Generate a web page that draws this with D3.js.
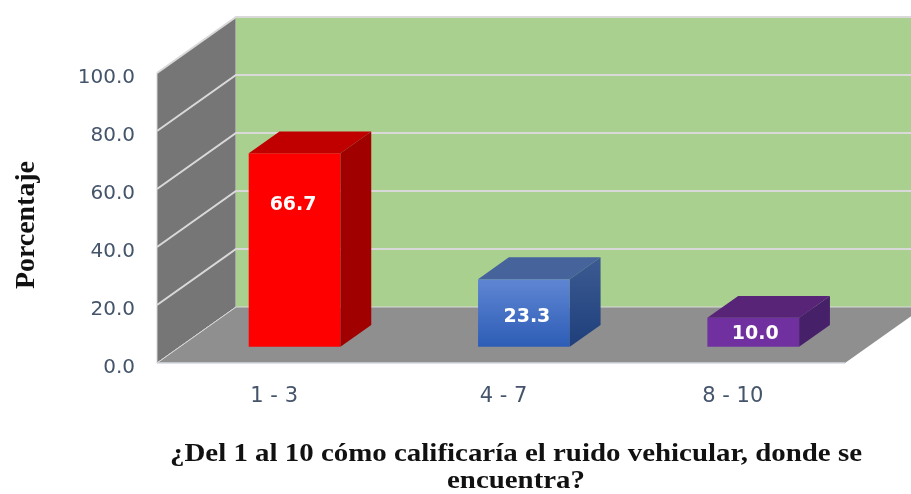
<!DOCTYPE html>
<html>
<head>
<meta charset="utf-8">
<script src="https://cdn.jsdelivr.net/npm/d3@7"></script>
<style>
  html, body { margin: 0; padding: 0; background: #fff; }
  svg { display: block; filter: blur(0.4px); }
  .tick-label { font-family: "DejaVu Sans", sans-serif; fill: #44546a; }
  .serif { font-family: "Liberation Serif", serif; font-weight: bold; fill: #111; }
</style>
</head>
<body>
<div id="chart"></div>
<script>
var categories = ["1 - 3", "4 - 7", "8 - 10"];
var values = [66.7, 23.3, 10.0];
var yTicks = [0, 20, 40, 60, 80, 100];
var yTitle = "Porcentaje";
var xTitleLines = ["¿Del 1 al 10 cómo calificaría el ruido vehicular, donde se", "encuentra?"];

var barColors = [
  { front: ["#ff0000", "#ff0000"], top: "#c00000", side: ["#a00000", "#a00000"] },
  { front: ["#5f86d3", "#2d5db6"], top: "#46639c", side: ["#3c5b92", "#1f3f7c"] },
  { front: ["#7030a0", "#7030a0"], top: "#572478", side: ["#47206a", "#47206a"] }
];

var svgWidth = 911;
var svgHeight = 494;

var svg = d3.select("#chart")
  .append("svg")
  .attr("width", svgWidth)
  .attr("height", svgHeight);

var defs = svg.append("defs");

// front face of the plot box
var xScale = d3.scaleBand().domain(categories).range([157, 845]);
var yScale = d3.scaleLinear().domain([0, 100]).range([363, 73]);

// depth runs from the front of the floor (0) to the back wall (1)
var depthX = d3.scaleLinear().domain([0, 1]).range([0, 79]);
var depthY = d3.scaleLinear().domain([0, 1]).range([0, -56]);

var line = d3.line();

// x here is a pixel position on the front plane, v is a value on the y axis
function project(x, v, z) {
  return [x + depthX(z), yScale(v) + depthY(z)];
}

function face(points, fill) {
  return svg.append("path")
    .attr("d", line(points) + "Z")
    .attr("fill", fill);
}

var x0 = xScale.range()[0];
var x1 = xScale.range()[1];

// side wall, floor, back wall
face([project(x0, 0, 0), project(x0, 100, 0), project(x0, 100, 1), project(x0, 0, 1)], "#767676")
  .attr("stroke", "#d4d4d4").attr("stroke-width", 1);
face([project(x0, 0, 0), project(x0, 0, 1), project(x1, 0, 1), project(x1, 0, 0)], "#8f8f8f");
face([project(x0, 0, 1), project(x0, 100, 1), project(x1, 100, 1), project(x1, 0, 1)], "#a9d08e");

// gridlines run along the side wall and across the back wall
yTicks.forEach(function(t) {
  svg.append("path")
    .attr("d", line([project(x0, t, 0), project(x0, t, 1), project(x1, t, 1)]))
    .attr("fill", "none")
    .attr("stroke", "#d9d9d9")
    .attr("stroke-width", t === 0 ? 1 : 2);
});

// front edge of the floor
svg.append("path")
  .attr("d", line([project(x0, 0, 0), project(x1, 0, 0)]))
  .attr("stroke", "#d4d9e0")
  .attr("stroke-width", 1.5);

// bars
var barWidth = xScale.bandwidth() * 0.4;
var zFront = 0.29;
var zBack = 0.68;
// where the label sits on the bar: share of its height, and a nudge sideways
var labelShare = [0.74, 0.47, 0.5];
var labelNudge = [-1.5, 3, 2];

function gradient(id, stops) {
  var g = defs.append("linearGradient")
    .attr("id", id)
    .attr("x1", 0).attr("y1", 0).attr("x2", 0).attr("y2", 1);
  g.append("stop").attr("offset", "0%").attr("stop-color", stops[0]);
  g.append("stop").attr("offset", "100%").attr("stop-color", stops[1]);
}

categories.forEach(function(c, i) {
  var center = xScale(c) + xScale.bandwidth() / 2;
  var left = center - barWidth / 2;
  var right = center + barWidth / 2;
  var v = values[i];
  var col = barColors[i];

  gradient("front" + i, col.front);
  gradient("side" + i, col.side);

  face([project(left, 0, zFront), project(left, v, zFront), project(right, v, zFront), project(right, 0, zFront)], "url(#front" + i + ")");
  face([project(left, v, zFront), project(left, v, zBack), project(right, v, zBack), project(right, v, zFront)], col.top);
  face([project(right, 0, zFront), project(right, v, zFront), project(right, v, zBack), project(right, 0, zBack)], "url(#side" + i + ")");

  var mid = project(center, v * labelShare[i], zFront);
  svg.append("text")
    .attr("x", mid[0] + labelNudge[i])
    .attr("y", mid[1])
    .attr("dy", "0.35em")
    .attr("text-anchor", "middle")
    .attr("font-family", "DejaVu Sans, sans-serif")
    .attr("font-weight", "bold")
    .attr("font-size", 19)
    .attr("fill", "#fff")
    .text(v.toFixed(1));
});

// axes
var leftAxis = d3.axisLeft(yScale)
  .tickValues(yTicks)
  .tickFormat(d3.format(".1f"))
  .tickSize(0);

svg.append("g")
  .attr("transform", "translate(" + (x0 - 22) + ",3)")
  .call(leftAxis)
  .call(function(g) { g.select(".domain").remove(); })
  .selectAll("text")
  .attr("class", "tick-label")
  .attr("x", 0)
  .attr("font-size", 20);

var bottomAxis = d3.axisBottom(xScale).tickSize(0).tickPadding(0);

svg.append("g")
  .attr("transform", "translate(2.5," + (yScale(0) + 24) + ")")
  .call(bottomAxis)
  .call(function(g) { g.select(".domain").remove(); })
  .selectAll("text")
  .attr("class", "tick-label")
  .attr("font-size", 21);

// axis titles
svg.append("text")
  .attr("class", "serif")
  .attr("transform", "translate(34,225) rotate(-90)")
  .attr("text-anchor", "middle")
  .attr("font-size", 27)
  .attr("textLength", 128)
  .attr("lengthAdjust", "spacingAndGlyphs")
  .text(yTitle);

var xTitleWidths = [692, 138];

svg.selectAll(".x-title")
  .data(xTitleLines)
  .enter()
  .append("text")
  .attr("class", "serif x-title")
  .attr("x", 516)
  .attr("y", function(d, i) { return 460.5 + i * 27.9; })
  .attr("text-anchor", "middle")
  .attr("font-size", 25)
  .attr("textLength", function(d, i) { return xTitleWidths[i]; })
  .attr("lengthAdjust", "spacingAndGlyphs")
  .text(function(d) { return d; });
</script>
</body>
</html>
